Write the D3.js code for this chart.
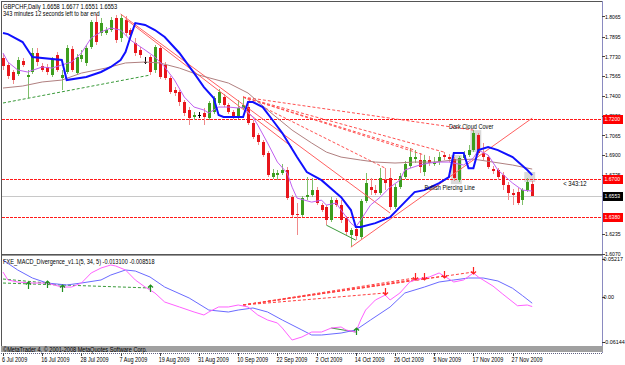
<!DOCTYPE html>
<html>
<head>
<meta charset="utf-8">
<script src="https://cdn.jsdelivr.net/npm/d3@7"></script>
<style>
  body { margin: 0; background: #fff; }
  svg { display: block; }
  text { font-family: "Liberation Sans", Arial, sans-serif; font-size: 7px; fill: #000; }
  text.ax { font-size: 6px; }
  text.axm { font-size: 5.4px; }
</style>
</head>
<body>
<svg id="chart" width="625" height="365"></svg>
<script>
// GBPCHF daily, 6 Jul 2009 .. 3 Dec 2009 (bar index 0..108)
const open = [1.7716,1.7657,1.7598,1.7581,1.7690,1.7556,1.7598,1.7758,1.7648,1.7640,
  1.7572,1.7741,1.7547,1.7598,1.7791,1.7589,1.7707,1.7674,1.7808,1.8019,
  1.7926,1.7926,1.7951,1.8052,1.7884,1.8036,1.7951,1.7842,1.7783,1.7682,
  1.7724,1.7615,1.7800,1.7657,1.7547,1.7446,1.7429,1.7345,1.7278,1.7219,
  1.7236,1.7253,1.7210,1.7261,1.7337,1.7387,1.7320,1.7261,1.7219,1.7295,
  1.7303,1.7168,1.7067,1.7008,1.6916,1.6714,1.6730,1.6747,1.6773,1.6545,
  1.6402,1.6394,1.6545,1.6562,1.6604,1.6478,1.6461,1.6352,1.6520,1.6478,
  1.6368,1.6225,1.6276,1.6208,1.6512,1.6629,1.6604,1.6579,1.6688,1.6705,
  1.6461,1.6629,1.6714,1.6806,1.6865,1.6857,1.6756,1.6857,1.6823,1.6840,
  1.6899,1.6882,1.6865,1.6688,1.6874,1.6899,1.6941,1.7067,1.6916,1.6882,
  1.6781,1.6773,1.6730,1.6646,1.6579,1.6587,1.6520,1.6604,1.6658];
const high = [1.7749,1.7682,1.7615,1.7724,1.7716,1.7615,1.7800,1.7800,1.7674,1.7665,
  1.7724,1.7766,1.7615,1.7825,1.7817,1.7749,1.7783,1.7825,1.8036,1.8086,
  1.8052,1.7977,1.8061,1.8078,1.8086,1.8069,1.7968,1.7884,1.7808,1.7724,
  1.7741,1.7825,1.7825,1.7682,1.7564,1.7471,1.7446,1.7362,1.7303,1.7261,
  1.7261,1.7295,1.7354,1.7396,1.7455,1.7413,1.7337,1.7278,1.7362,1.7387,
  1.7345,1.7194,1.7084,1.7025,1.6933,1.6781,1.6773,1.6823,1.6798,1.6562,
  1.6495,1.6554,1.6714,1.6705,1.6629,1.6495,1.6478,1.6545,1.6537,1.6520,
  1.6385,1.6284,1.6293,1.6528,1.6747,1.6705,1.6646,1.6789,1.6789,1.6789,
  1.6655,1.6747,1.6848,1.6958,1.6941,1.6916,1.6899,1.6890,1.6882,1.6924,
  1.6924,1.6907,1.6882,1.6890,1.6933,1.6983,1.7109,1.7084,1.7000,1.6899,
  1.6806,1.6789,1.6756,1.6672,1.6613,1.6621,1.6621,1.6705,1.6677];
const low = [1.7615,1.7539,1.7497,1.7564,1.7640,1.7379,1.7581,1.7648,1.7598,1.7572,
  1.7556,1.7598,1.7446,1.7581,1.7598,1.7572,1.7682,1.7648,1.7791,1.7825,
  1.7901,1.7909,1.7935,1.7842,1.7850,1.7901,1.7884,1.7732,1.7716,1.7665,
  1.7572,1.7589,1.7539,1.7530,1.7413,1.7396,1.7311,1.7227,1.7151,1.7194,
  1.7210,1.7151,1.7194,1.7244,1.7320,1.7303,1.7244,1.7202,1.7202,1.7278,
  1.7151,1.7034,1.6983,1.6882,1.6714,1.6697,1.6688,1.6730,1.6520,1.6377,
  1.6225,1.6377,1.6520,1.6545,1.6478,1.6419,1.6309,1.6335,1.6461,1.6326,
  1.6225,1.6124,1.6183,1.6192,1.6495,1.6562,1.6562,1.6562,1.6604,1.6436,
  1.6444,1.6613,1.6697,1.6789,1.6832,1.6747,1.6722,1.6806,1.6806,1.6815,
  1.6857,1.6840,1.6680,1.6672,1.6857,1.6882,1.6924,1.6899,1.6857,1.6781,
  1.6739,1.6688,1.6604,1.6520,1.6478,1.6478,1.6478,1.6587,1.6551];
const close = [1.7648,1.7564,1.7530,1.7699,1.7657,1.7572,1.7758,1.7682,1.7615,1.7598,
  1.7699,1.7615,1.7572,1.7800,1.7615,1.7724,1.7741,1.7800,1.8019,1.7850,
  1.8010,1.7951,1.8036,1.7867,1.8052,1.7926,1.7909,1.7758,1.7741,1.7682,
  1.7598,1.7808,1.7556,1.7547,1.7429,1.7421,1.7345,1.7253,1.7210,1.7236,
  1.7236,1.7219,1.7337,1.7379,1.7429,1.7320,1.7261,1.7219,1.7295,1.7320,
  1.7168,1.7050,1.7008,1.6899,1.6730,1.6747,1.6747,1.6773,1.6537,1.6394,
  1.6394,1.6537,1.6562,1.6604,1.6495,1.6436,1.6352,1.6520,1.6478,1.6352,
  1.6251,1.6267,1.6217,1.6512,1.6663,1.6604,1.6579,1.6705,1.6663,1.6461,
  1.6629,1.6722,1.6823,1.6882,1.6882,1.6798,1.6857,1.6832,1.6840,1.6882,
  1.6882,1.6865,1.6705,1.6874,1.6899,1.6941,1.7084,1.6916,1.6882,1.6798,
  1.6764,1.6714,1.6646,1.6579,1.6562,1.6495,1.6604,1.6672,1.6553];

// indicator lines, [bar, value]
const blueLine = [[0,1.7926],[1,1.7917],[4,1.7850],[6,1.7724],[12,1.7699],[13,1.7530],[17,1.7556],[20,1.7598],
  [22,1.7640],[24,1.7699],[25,1.7766],[26,1.7892],[27,1.8010],[29,1.7994],[31,1.7951],[33,1.7892],[36,1.7758],
  [39,1.7589],[41,1.7471],[43,1.7379],[44,1.7236],[45,1.7219],[49,1.7219],[50,1.7345],[51,1.7345],[53,1.7303],
  [55,1.7194],[57,1.7084],[60,1.6882],[62,1.6756],[65,1.6688],[68,1.6579],[69,1.6545],[71,1.6436],[72,1.6293],
  [73,1.6293],[76,1.6326],[79,1.6377],[81,1.6461],[84,1.6587],[86,1.6604],[89,1.6663],[90,1.6688],[91,1.6714],
  [92,1.6916],[94,1.6916],[95,1.6789],[96,1.6789],[97,1.6941],[99,1.6966],[101,1.6941],[104,1.6882],[107,1.6773],[108,1.6730]];
const fastMA = [[0,1.7758],[1,1.7682],[3,1.7615],[5,1.7598],[8,1.7640],[10,1.7631],[12,1.7657],[14,1.7682],
  [16,1.7758],[18,1.7884],[20,1.7935],[22,1.7968],[24,1.7951],[26,1.7867],[29,1.7783],[31,1.7724],[33,1.7640],
  [35,1.7530],[37,1.7387],[39,1.7303],[41,1.7278],[42,1.7253],[44,1.7303],[46,1.7303],[48,1.7295],[49,1.7303],
  [51,1.7219],[52,1.7151],[54,1.7000],[56,1.6840],[58,1.6747],[59,1.6629],[60,1.6537],[63,1.6503],[65,1.6520],
  [66,1.6478],[68,1.6495],[69,1.6436],[71,1.6326],[72,1.6293],[73,1.6352],[75,1.6478],[77,1.6545],[79,1.6629],
  [81,1.6688],[82,1.6773],[85,1.6815],[87,1.6832],[89,1.6840],[91,1.6840],[94,1.6815],[96,1.6874],[97,1.6941],
  [99,1.6899],[101,1.6773],[104,1.6663],[106,1.6604],[108,1.6596]];
const slowMA = [[0,1.7463],[4,1.7480],[8,1.7514],[12,1.7530],[16,1.7589],[21,1.7631],[25,1.7674],[29,1.7682],
  [32,1.7674],[36,1.7631],[40,1.7572],[46,1.7505],[50,1.7421],[54,1.7278],[59,1.7109],[63,1.7000],[66,1.6924],
  [69,1.6882],[73,1.6857],[76,1.6840],[80,1.6832],[84,1.6840],[88,1.6840],[92,1.6857],[96,1.6865],[100,1.6840],
  [104,1.6815],[108,1.6781]];

// drawn objects
const levels = [1.7200, 1.6700, 1.6380];
const bid = 1.6553;
const trendLines = [[[24,1.8086],[79,1.6411]], [[25,1.8044],[59,1.6967]], [[71,1.6124],[108,1.7210]]];
const fanFrom = [49, 1.7387];
const fanTo = [[78,1.6789],[84,1.6941],[86,1.6899],[90,1.6924],[96,1.7109]];
const bullDiv = [[0,1.7337],[30,1.7572]];
const bullDiv2 = [[66,1.6309],[72,1.6183]];
const boxes = [[92,93,1.6899,1.6655],[96,97,1.7109,1.6924],[107,108,1.6756,1.6672]];
const notes = [["Dark Cloud Cover",91,1.7120],["Bullish Piercing Line",86,1.6604]];

// MACD window
const macdMain = [[0,0.0343],[1,0.0234],[3,0.0206],[6,0.0192],[9,0.0192],[12,0.0137],[14,0.0137],[16,0.0192],
  [18,0.0330],[20,0.0398],[22,0.0440],[23,0.0426],[25,0.0371],[27,0.0234],[29,0.0137],[31,0.0055],[33,-0.0069],
  [36,-0.0137],[39,-0.0206],[41,-0.0247],[42,-0.0206],[44,-0.0137],[46,-0.0137],[48,-0.0110],[50,-0.0137],
  [52,-0.0247],[54,-0.0316],[56,-0.0357],[57,-0.0426],[59,-0.0591],[61,-0.0549],[63,-0.0481],[65,-0.0481],
  [67,-0.0426],[69,-0.0412],[70,-0.0453],[72,-0.0481],[73,-0.0316],[74,-0.0179],[76,-0.0041],[78,0.0027],
  [79,-0.0041],[81,0.0055],[83,0.0206],[84,0.0234],[87,0.0275],[89,0.0330],[92,0.0206],[94,0.0234],[96,0.0330],
  [97,0.0275],[100,0.0150],[102,0.0040],[105,-0.0120],[107,-0.0110],[108,-0.0131]];
const macdSignal = [[0,0.0508],[3,0.0371],[6,0.0261],[9,0.0192],[13,0.0165],[16,0.0192],[20,0.0234],[22,0.0302],
  [25,0.0371],[27,0.0357],[30,0.0275],[33,0.0137],[38,-0.0014],[42,-0.0179],[46,-0.0206],[48,-0.0179],[51,-0.0151],
  [54,-0.0206],[57,-0.0316],[61,-0.0453],[63,-0.0522],[65,-0.0522],[69,-0.0495],[72,-0.0453],[75,-0.0316],
  [79,-0.0137],[82,0.0055],[86,0.0137],[89,0.0206],[92,0.0234],[95,0.0261],[98,0.0261],[101,0.0220],[104,0.0120],
  [106,0.0020],[108,-0.0085]];
const macdFanFrom = [49, -0.0110];
const macdFanTo = [[78,0.0055],[84,0.0261],[86,0.0261],[90,0.0288],[96,0.0343]];
const macdBullDiv = [[[0,0.0247],[9,0.0192]], [[0,0.0192],[30,0.0124]], [[67,-0.0426],[72,-0.0481]]];
const upArrows = [[5,0.0165],[9,0.0180],[12,0.0124],[30,0.0124],[72,-0.0465]];
const downArrows = [[78,0.0070],[84,0.0270],[86,0.0270],[90,0.0300],[96,0.0355]];

// axis labels (1.6570 and 1.6400 sit under the price tags and are not shown)
const priceTicks = [1.8065,1.7895,1.7730,1.7565,1.7400,1.7230,1.7065,1.6900,1.6735,1.6235,1.6070];
const macdTicks = [0.05217, 0.00, -0.06144];
const dateBars = [0,8,16,24,32,40,48,56,64,72,80,88,96,104];
const dateLabels = ["6 Jul 2009","16 Jul 2009","28 Jul 2009","7 Aug 2009","19 Aug 2009","31 Aug 2009",
  "10 Sep 2009","22 Sep 2009","2 Oct 2009","14 Oct 2009","26 Oct 2009","5 Nov 2009","17 Nov 2009","27 Nov 2009"];

const svg = d3.select("#chart");
const x = d3.scaleLinear().domain([0, 108]).range([3, 532.2]);
const y = d3.scaleLinear().domain([1.6058, 1.8187]).range([255, 2]);
const ym = d3.scaleLinear().domain([-0.0673, 0.0577]).range([346, 255]);
const px = i => Math.round(x(i)) + 0.5;

function squeeze(sel, k) {
  sel.each(function() {
    const w = this.getComputedTextLength();
    d3.select(this).attr("textLength", w * k).attr("lengthAdjust", "spacingAndGlyphs");
  });
}

const defs = svg.append("defs");
defs.append("clipPath").attr("id", "clipMain").append("rect").attr("x", 2).attr("y", 2).attr("width", 600).attr("height", 252);
defs.append("clipPath").attr("id", "clipMacd").append("rect").attr("x", 2).attr("y", 257).attr("width", 600).attr("height", 89);

svg.append("rect").attr("width", 625).attr("height", 365).attr("fill", "#fff");

// ---------- main window ----------
const main = svg.append("g").attr("clip-path", "url(#clipMain)");

main.selectAll("rect.box").data(boxes).join("rect")
  .attr("x", d => x(d[0]) - 3).attr("width", d => x(d[1]) - x(d[0]) + 6)
  .attr("y", d => y(d[2])).attr("height", d => y(d[3]) - y(d[2]))
  .attr("fill", "#d9d9d9");

main.append("line")
  .attr("x1", 2).attr("x2", 602).attr("y1", Math.round(y(bid)) + 0.5).attr("y2", Math.round(y(bid)) + 0.5)
  .attr("stroke", "#c8c8c8");

main.append("g").selectAll("line").data(levels).join("line")
  .attr("x1", 2).attr("x2", 602)
  .attr("y1", d => Math.round(y(d)) + 0.5).attr("y2", d => Math.round(y(d)) + 0.5)
  .style("stroke", "#ff1a1a").style("stroke-dasharray", "3,1");

// candles
const bars = d3.range(open.length);
const gC = main.append("g").attr("shape-rendering", "crispEdges");
gC.selectAll("line").data(bars).join("line")
  .attr("x1", px).attr("x2", px)
  .attr("y1", i => y(high[i])).attr("y2", i => y(low[i]))
  .attr("stroke", i => close[i] > open[i] ? "#7fbf6a" : close[i] < open[i] ? "#f08a8a" : "#000");
gC.selectAll("rect").data(bars).join("rect")
  .attr("x", i => Math.round(x(i)) - 1).attr("width", 3)
  .attr("y", i => Math.round(y(Math.max(open[i], close[i]))))
  .attr("height", i => Math.max(1, Math.round(y(Math.min(open[i], close[i])) - y(Math.max(open[i], close[i])))))
  .attr("fill", i => close[i] > open[i] ? "#3c9e1e" : close[i] < open[i] ? "#e8161c" : "#000");

// trend lines
const seg = d3.line().x(d => x(d[0])).y(d => y(d[1]));
main.selectAll("path.trend").data(trendLines).join("path")
  .attr("d", seg).attr("fill", "none").attr("stroke", "#ff6060").attr("stroke-width", 1);
main.selectAll("path.fan").data(fanTo).join("path")
  .attr("d", d => seg([fanFrom, d])).attr("fill", "none")
  .attr("stroke", "#ff5050").attr("stroke-dasharray", "3,2");
main.append("path").attr("d", seg(bullDiv)).attr("fill", "none")
  .attr("stroke", "#3a9a3a").attr("stroke-dasharray", "3,2");
main.append("path").attr("d", seg(bullDiv2)).attr("fill", "none").attr("stroke", "#3a9a3a");

// moving averages
main.append("path").attr("d", seg(slowMA)).attr("fill", "none").attr("stroke", "#b08080");
main.append("path").attr("d", seg(fastMA)).attr("fill", "none").attr("stroke", "#c060f0");
main.append("path").attr("d", seg(blueLine)).attr("fill", "none").attr("stroke", "#1010ff").attr("stroke-width", 2);

main.selectAll("text.note").data(notes).join("text")
  .attr("x", d => x(d[1])).attr("y", d => y(d[2])).text(d => d[0])
  .call(squeeze, 0.8);

main.append("text").attr("x", 3).attr("y", 9).text("GBPCHF,Daily  1.6658 1.6677 1.6551 1.6553").call(squeeze, 0.82);
main.append("text").attr("x", 3).attr("y", 16).text("343 minutes 12 seconds left to bar end").call(squeeze, 0.8);
main.append("text").attr("x", x(108) + 31).attr("y", y(bid) - 10).text("<  343:12").call(squeeze, 0.85);

// ---------- MACD window ----------
const sub = svg.append("g").attr("clip-path", "url(#clipMacd)");
const segM = d3.line().x(d => x(d[0])).y(d => ym(d[1]));
sub.selectAll("path.bd").data(macdBullDiv).join("path")
  .attr("d", segM).attr("fill", "none").attr("stroke", "#3a9a3a")
  .attr("stroke-dasharray", (d, i) => i < 2 ? "3,2" : null);
sub.selectAll("path.rd").data(macdFanTo).join("path")
  .attr("d", d => segM([macdFanFrom, d])).attr("fill", "none")
  .attr("stroke", "#ff4040").attr("stroke-dasharray", "3,2");
sub.append("path").attr("d", segM(macdSignal)).attr("fill", "none").attr("stroke", "#6a6aff");
sub.append("path").attr("d", segM(macdMain)).attr("fill", "none").attr("stroke", "#ff60ff");

sub.selectAll("path.up").data(upArrows).join("path")
  .attr("d", d => {
    const cx = px(d[0]), cy = Math.round(ym(d[1]));
    return `M${cx},${cy - 3}V${cy + 4}M${cx - 2.5},${cy - 0.5}L${cx},${cy - 3}L${cx + 2.5},${cy - 0.5}`;
  })
  .attr("fill", "none").attr("stroke", "#1f8f1f").attr("stroke-width", 1.2);
sub.selectAll("path.dn").data(downArrows).join("path")
  .attr("d", d => {
    const cx = px(d[0]), cy = Math.round(ym(d[1]));
    return `M${cx},${cy - 4}V${cy + 3}M${cx - 2.5},${cy + 0.5}L${cx},${cy + 3}L${cx + 2.5},${cy + 0.5}`;
  })
  .attr("fill", "none").attr("stroke", "#ff2020").attr("stroke-width", 1.2);

sub.append("text").attr("x", 3).attr("y", 264)
  .text("FXE_MACD_Divergence_v1.1(5, 34, 5) -0.013100 -0.008518").call(squeeze, 0.8);

// ---------- frames ----------
const frame = svg.append("g").attr("shape-rendering", "crispEdges");
frame.append("rect").attr("x", 1.5).attr("y", 1.5).attr("width", 600.5).attr("height", 252.5)
  .attr("fill", "none").attr("stroke", "#555");
frame.append("line").attr("x1", 1).attr("x2", 602).attr("y1", 255.5).attr("y2", 255.5).attr("stroke", "#9a9a9a");
frame.append("line").attr("x1", 1.5).attr("x2", 1.5).attr("y1", 255).attr("y2", 352).attr("stroke", "#555");
frame.append("line").attr("x1", 602.5).attr("x2", 602.5).attr("y1", 1).attr("y2", 353).attr("stroke", "#8a8ac0");
frame.append("rect").attr("x", 1).attr("y", 346).attr("width", 602).attr("height", 6).attr("fill", "#a0a0a0");
frame.append("line").attr("x1", 1).attr("x2", 603).attr("y1", 353.5).attr("y2", 353.5)
  .attr("stroke", "#606080").attr("stroke-dasharray", "1,1");
svg.append("text").attr("x", 3).attr("y", 351.5)
  .text("©MetaTrader 4, © 2001-2008 MetaQuotes Software Corp.").call(squeeze, 0.8);

// price axis
const axisG = svg.append("g");
axisG.selectAll("line.pt").data(priceTicks).join("line")
  .attr("x1", 602).attr("x2", 605).attr("y1", d => Math.round(y(d)) + 0.5).attr("y2", d => Math.round(y(d)) + 0.5)
  .attr("stroke", "#444");
axisG.selectAll("text.pt").data(priceTicks).join("text").attr("class", "ax")
  .attr("x", 605).attr("y", d => y(d) + 2.2).text(d => d.toFixed(4)).call(squeeze, 0.85);
axisG.selectAll("line.mt").data(macdTicks).join("line")
  .attr("x1", 602).attr("x2", 605).attr("y1", d => Math.round(ym(d)) + 0.5).attr("y2", d => Math.round(ym(d)) + 0.5)
  .attr("stroke", "#444");
axisG.selectAll("text.mt").data(macdTicks).join("text").attr("class", "axm")
  .attr("x", 603.5).attr("y", d => ym(d) + 2)
  .text(d => d === 0 ? "0.00" : d.toFixed(5));

const tags = levels.map(v => [v, "#ff0000"]).concat([[bid, "#000"]]);
const tagG = axisG.selectAll("g.tag").data(tags).join("g");
tagG.append("rect").attr("x", 603).attr("width", 20).attr("y", d => Math.round(y(d[0])) - 4).attr("height", 9)
  .attr("fill", d => d[1]);
tagG.append("text").attr("class", "ax").attr("x", 604.5).attr("y", d => y(d[0]) + 2.2).style("fill", "#fff")
  .text(d => d[0].toFixed(4)).call(squeeze, 0.85);

// time axis
const dG = svg.append("g");
dG.selectAll("line").data(dateBars).join("line")
  .attr("x1", px).attr("x2", px).attr("y1", 353).attr("y2", 356).attr("stroke", "#444");
dG.selectAll("text").data(dateBars).join("text")
  .attr("x", d => x(d) - 1).attr("y", 362).text((d, i) => dateLabels[i]).call(squeeze, 0.78);
</script>
</body>
</html>
